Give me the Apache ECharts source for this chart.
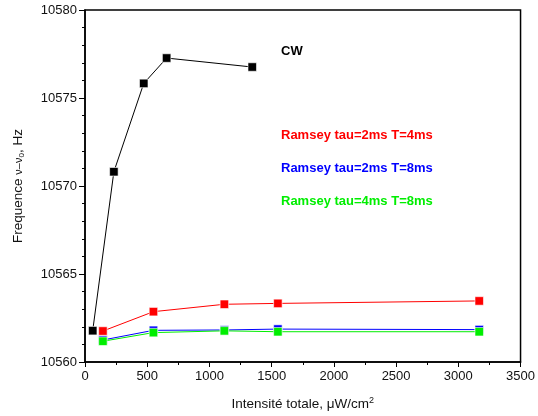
<!DOCTYPE html>
<html>
<head>
<meta charset="utf-8">
<script src="https://cdn.jsdelivr.net/npm/echarts@6/dist/echarts.min.js"></script>
<style>html,body{margin:0;padding:0;background:#fff;}#c{width:538px;height:416px;}</style>
</head>
<body>
<div id="c"></div>
<script>
const cwX = [62, 232, 472, 656, 1344];
const cwY = [10561.78, 10570.81, 10575.83, 10577.27, 10576.76];
const rX = [144, 550, 1120, 1550, 3168];
const red = [10561.76, 10562.86, 10563.28, 10563.33, 10563.47];
const blue = [10561.25, 10561.8, 10561.82, 10561.87, 10561.84];
const green = [10561.18, 10561.67, 10561.77, 10561.72, 10561.72];
const xTicks = [0, 500, 1000, 1500, 2000, 2500, 3000, 3500];
const yTicks = [10560, 10565, 10570, 10575, 10580];
const labels = ['CW', 'Ramsey tau=2ms T=4ms', 'Ramsey tau=2ms T=8ms', 'Ramsey tau=4ms T=8ms'];

const zip = (xs, ys) => xs.map((x, i) => [x, ys[i]]);
const FONT = '"Liberation Sans", Arial, sans-serif';
const chart = echarts.init(document.getElementById('c'), null, {renderer: 'canvas'});

function series(name, xs, ys, color, z) {
  return {
    name, type: 'line', data: zip(xs, ys), symbol: 'rect', symbolSize: 8.5,
    lineStyle: {color, width: 1}, itemStyle: {color, borderColor: '#fff', borderWidth: 0.6},
    z, animation: false
  };
}

chart.setOption({
  animation: false,
  grid: {left: 85, right: 15, top: 10, bottom: 54, show: true, borderColor: '#000', borderWidth: 1.5, backgroundColor: 'transparent'},
  xAxis: {
    type: 'value', min: xTicks[0], max: xTicks[xTicks.length - 1], interval: 500,
    axisLine: {show: true, lineStyle: {color: '#000', width: 1.5}},
    axisTick: {show: true, inside: false, length: 5, lineStyle: {color: '#000', width: 1}},
    minorTick: {show: true, splitNumber: 2, length: 3, lineStyle: {color: '#000', width: 1}},
    splitLine: {show: false},
    axisLabel: {color: '#111', fontSize: 13, fontFamily: FONT, margin: 8, formatter: v => String(v)},
    name: 'Intensité totale, μW/cm{sup|2}', nameLocation: 'middle', nameGap: 34,
    nameTextStyle: {color: '#111', fontSize: 13.5, fontFamily: FONT, rich: {sup: {fontSize: 9, verticalAlign: 'top', padding: [0, 0, 7, 0], fontFamily: FONT, color: '#111'}}}
  },
  yAxis: {
    type: 'value', min: yTicks[0], max: yTicks[yTicks.length - 1], interval: 5,
    axisLine: {show: true, lineStyle: {color: '#000', width: 1.5}},
    axisTick: {show: true, inside: false, length: 6, lineStyle: {color: '#000', width: 1}},
    minorTick: {show: true, splitNumber: 5, length: 3, lineStyle: {color: '#000', width: 1}},
    splitLine: {show: false},
    axisLabel: {color: '#111', fontSize: 13, fontFamily: FONT, margin: 8, formatter: v => String(v)},
    name: 'Frequence {g|ν–ν}{sub|0}, Hz', nameLocation: 'middle', nameGap: 59, nameRotate: 90,
    nameTextStyle: {color: '#111', fontSize: 13.5, fontFamily: FONT,
      rich: {g: {fontSize: 11, fontFamily: FONT, color: '#111'}, sub: {fontSize: 8, fontFamily: FONT, color: '#111', padding: [7, 0, 0, 0]}}}
  },
  series: [
    series(labels[0], cwX, cwY, '#000', 4),
    series(labels[1], rX, red, '#ff0000', 3),
    series(labels[2], rX, blue, '#0000ff', 2),
    series(labels[3], rX, green, '#00ee00', 5)
  ],
  graphic: [
    {type: 'text', left: 281, top: 45, style: {text: labels[0], fill: '#000', font: 'bold 13px ' + FONT}},
    {type: 'text', left: 281, top: 129, style: {text: labels[1], fill: '#ff0000', font: 'bold 13px ' + FONT}},
    {type: 'text', left: 281, top: 162, style: {text: labels[2], fill: '#0000ff', font: 'bold 13px ' + FONT}},
    {type: 'text', left: 281, top: 195, style: {text: labels[3], fill: '#00ee00', font: 'bold 13px ' + FONT}}
  ]
});
</script>
</body>
</html>
